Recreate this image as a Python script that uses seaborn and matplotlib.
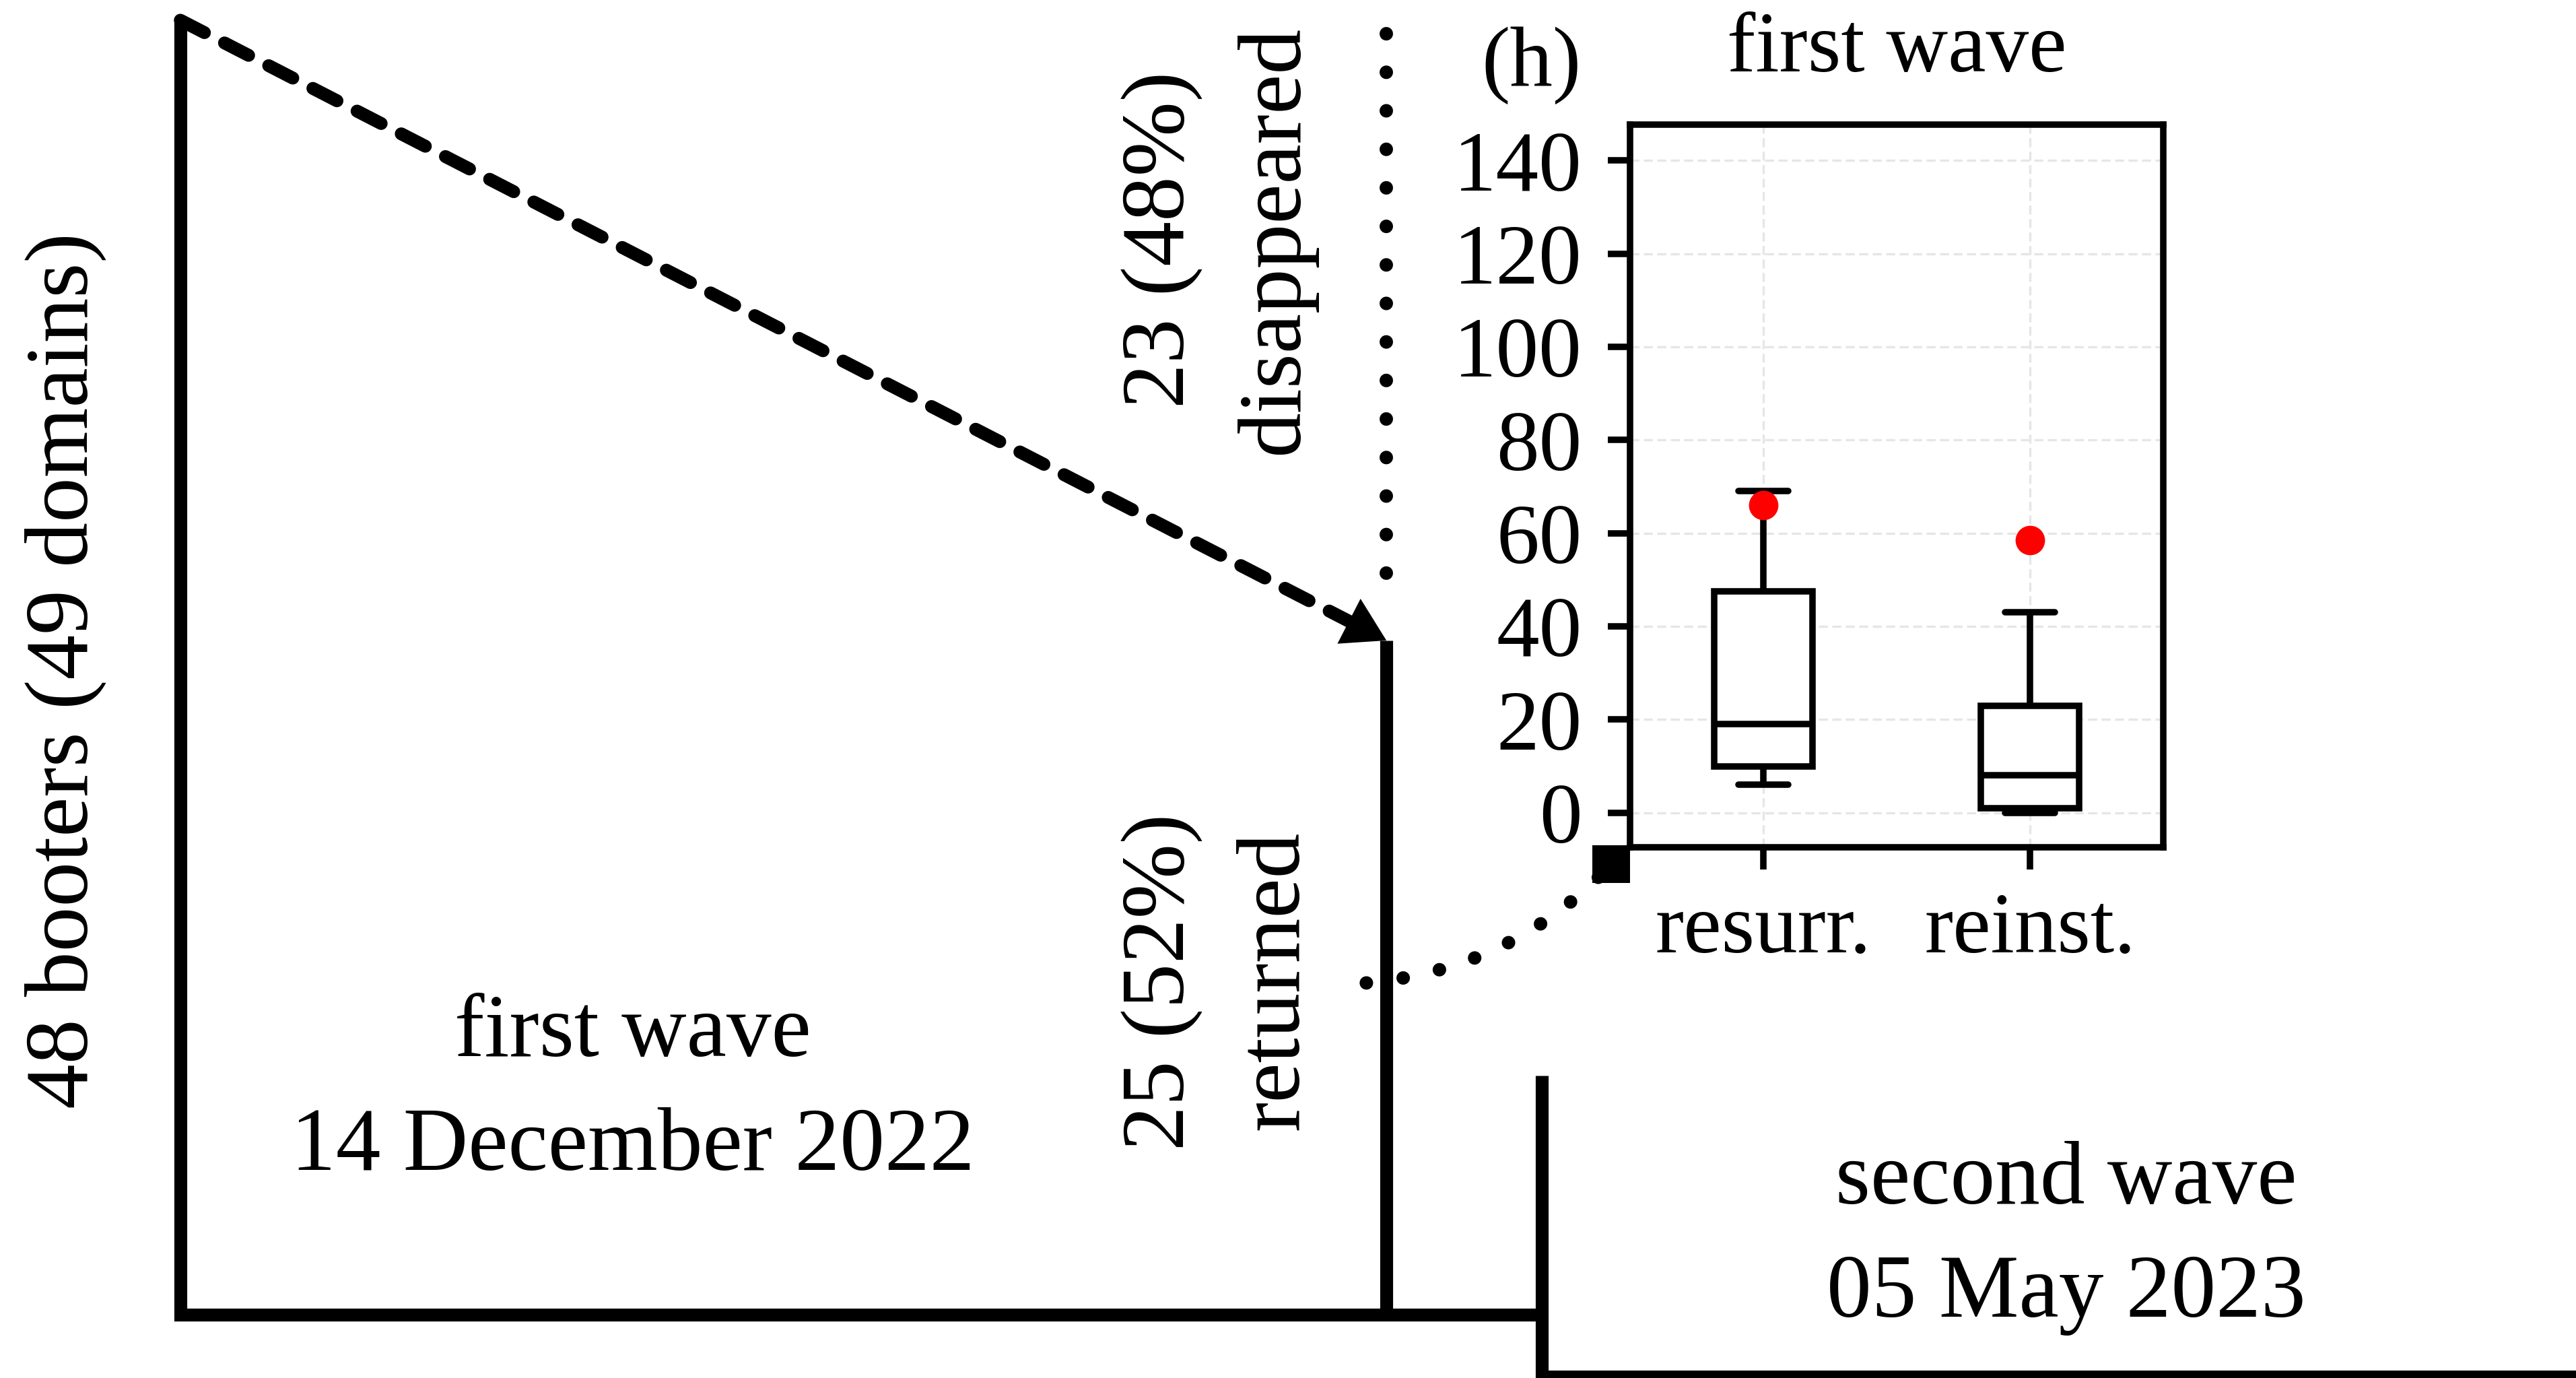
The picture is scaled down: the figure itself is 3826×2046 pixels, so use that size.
import numpy as np
import pandas as pd
import matplotlib
matplotlib.use("Agg")
import matplotlib.pyplot as plt
import seaborn as sns

# ---- data -------------------------------------------------------------
# booter counts around the first takedown wave
booters_total = 48
domains_total = 49
booters_disappeared = 23
booters_returned = 25

# return delays (days) of the booters that came back:
# five-number summaries (min, Q1, median, Q3, max)
delay_categories = ["resurr.", "reinst."]
resurr_delays = [6, 10, 19, 47.5, 69]
reinst_delays = [0, 1, 8, 23, 43]
highlight_delays = [66, 58.5]
delay_ticks = [0, 20, 40, 60, 80, 100, 120, 140]

wave_names = ["first wave", "second wave"]
wave_dates = ["14 December 2022", "05 May 2023"]

# ---- style ------------------------------------------------------------
sns.set_theme(style="ticks", rc={
    "axes.edgecolor": "black",
    "xtick.color": "black",
    "ytick.color": "black",
    "text.color": "black",
    "axes.labelcolor": "black",
})
plt.rcParams["font.family"] = ["Liberation Serif", "DejaVu Serif"]

W_PX, H_PX, DPI = 3826, 2046, 300
fig = plt.figure(figsize=(W_PX / DPI, H_PX / DPI), dpi=DPI)


def fx(px):
    return px / W_PX


def fy(py):
    return 1 - py / H_PX


MAIN_FS = 32
INSET_FS = 30.5
LW = 4.6
BOX_LW = 2.3

# ---- timeline diagram (y measured in booters) ---------------------------
ax = fig.add_axes([0, 0, 1, 1])
ax.set_xlim(0, 100)
ax.set_ylim(-2.35, 48.75)
ax.axis("off")

x_first, x_ret, x_second = 7.0, 53.82, 59.85
second_top, second_base = 8.87, -2.3

line_kw = dict(color="black", lw=LW, solid_capstyle="butt", solid_joinstyle="miter")
ax.plot([x_first, x_first, x_second], [booters_total, 0, 0], **line_kw)
ax.plot([x_ret, x_ret], [0, booters_returned], **line_kw)
ax.plot([x_second, x_second, 101], [second_top, second_base, second_base], **line_kw)

# dotted span of the booters that disappeared
ax.plot([x_ret, x_ret], [booters_total - 0.5, booters_returned + 1.2],
        color="black", lw=4.8, dashes=(0.01, 2.85), dash_capstyle="round")

# dashed drop from all booters to those that returned
ax.annotate("", xy=(x_ret, booters_returned), xytext=(x_first, booters_total),
            arrowprops=dict(arrowstyle="-", color="black", lw=4.6,
                            linestyle=(0, (2.1, 1.75)), shrinkA=0, shrinkB=14.5))
ax.annotate("", xy=(x_ret, booters_returned), xytext=(x_first, booters_total),
            arrowprops=dict(arrowstyle="-|>,head_length=15,head_width=9",
                            mutation_scale=1, color="black", lw=0,
                            shrinkA=0, shrinkB=0))

# curved dotted link from the returned booters to the inset
link_start = (x_ret - 0.78, 12.3)
link_end = (62.55, 16.7)
ax.annotate("", xy=link_end, xytext=link_start,
            arrowprops=dict(arrowstyle="-", color="black", lw=4.8,
                            linestyle=(0, (0.01, 2.75)), capstyle="round",
                            connectionstyle="arc3,rad=0.19",
                            shrinkA=0, shrinkB=0))
ax.plot([link_end[0]], [link_end[1]], marker="s", ms=13.5, mew=0, color="black", lw=0)

# ---- diagram labels ---------------------------------------------------
def pct(n):
    return f"{n} ({n / booters_total:.0%})"


txt = dict(fontsize=MAIN_FS, color="black")
fig.text(fx(97), fy(996), f"{booters_total} booters ({domains_total} domains)",
         rotation=90, ha="center", va="center", **txt)
fig.text(fx(1726), fy(356), pct(booters_disappeared), rotation=90, ha="center", va="center", **txt)
fig.text(fx(1895), fy(356), "disappeared", rotation=90, ha="center", va="center", **txt)
fig.text(fx(1726), fy(1458), pct(booters_returned), rotation=90, ha="center", va="center", **txt)
fig.text(fx(1895), fy(1456), "returned", rotation=90, ha="center", va="center", **txt)
fig.text(fx(940), fy(1568), wave_names[0], ha="center", va="baseline", **txt)
fig.text(fx(940), fy(1737), wave_dates[0], ha="center", va="baseline", **txt)
fig.text(fx(3069), fy(1787), wave_names[1], ha="center", va="baseline", **txt)
fig.text(fx(3069), fy(1955), wave_dates[1], ha="center", va="baseline", **txt)

# ---- inset box plot ---------------------------------------------------
ax_in = fig.add_axes([fx(2421), fy(1258), fx(3213) - fx(2421), (1258 - 185) / H_PX])
delays = pd.DataFrame({
    "kind": np.repeat(delay_categories, len(resurr_delays)),
    "delay": resurr_delays + reinst_delays,
})
sns.boxplot(data=delays, x="kind", y="delay", order=delay_categories,
            color="white", linecolor="black", linewidth=BOX_LW, width=0.37,
            fliersize=0, ax=ax_in)
sns.stripplot(x=delay_categories, y=highlight_delays, order=delay_categories,
              color="red", size=10.5, jitter=False, linewidth=0, zorder=5, ax=ax_in)

ax_in.set_xlim(-0.5, 1.5)
ax_in.set_ylim(-7.4, 147.7)
ax_in.set_yticks(delay_ticks)
ax_in.set_xlabel("")
ax_in.set_ylabel("")
ax_in.grid(True, color="#e6e6e6", lw=0.8, ls=(0, (4, 2)))
ax_in.set_axisbelow(True)
for sp in ax_in.spines.values():
    sp.set_visible(True)
    sp.set_linewidth(BOX_LW)
    sp.set_color("black")
ax_in.tick_params(axis="both", direction="out", length=7.9, width=BOX_LW,
                  color="black", labelcolor="black", labelsize=INSET_FS)
ax_in.tick_params(axis="y", pad=9.2)
ax_in.tick_params(axis="x", pad=8.2)
ax_in.set_title(wave_names[0], fontsize=INSET_FS, pad=19, color="black")
fig.text(fx(2274), fy(97), "(h)", ha="center", va="center", fontsize=INSET_FS, color="black")

fig.savefig("out.png", dpi=DPI)
